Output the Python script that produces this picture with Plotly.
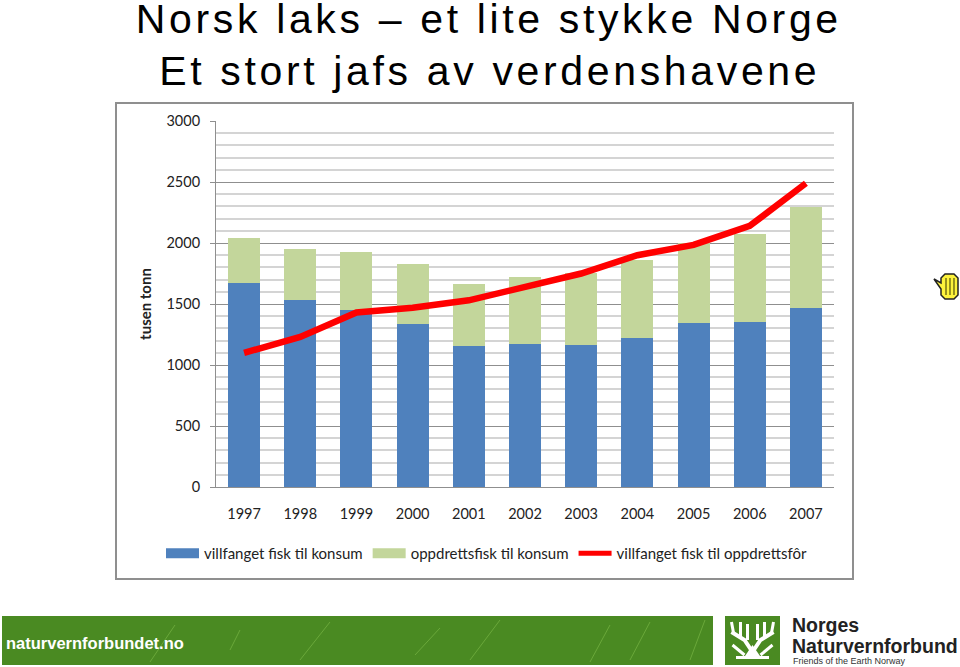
import plotly.graph_objects as go

years = ["1997","1998","1999","2000","2001","2002","2003","2004","2005","2006","2007"]
wild_food = [1672,1535,1450,1340,1155,1175,1160,1225,1345,1355,1470]
farmed_food = [368,415,475,490,510,550,595,635,655,715,825]
wild_feed = [1100,1230,1430,1470,1530,1640,1750,1900,1985,2140,2490]
title_lines = ["Norsk laks – et lite stykke Norge", "Et stort jafs av verdenshavene"]
names = ["villfanget fisk til konsum", "oppdrettsfisk til konsum", "villfanget fisk til oppdrettsfôr"]

L, T, PW, PH = 216, 121, 618, 366
def px(x): return (x - L) / PW
def py(y): return (T + PH - y) / PH

fig = go.Figure()
fig.add_bar(x=years, y=wild_food, name=names[0], marker_color="#4f81bd", marker_line_width=0, showlegend=False)
fig.add_bar(x=years, y=farmed_food, name=names[1], marker_color="#c3d69b", marker_line_width=0, showlegend=False)
fig.add_scatter(x=years, y=wild_feed, name=names[2], mode="lines", showlegend=False,
                line=dict(color="#ff0000", width=6.5, shape="linear"))
for n, c, w in zip(names, ["#4f81bd", "#c3d69b", "#ff0000"], [10, 10, 5]):
    fig.add_scatter(x=[None], y=[None], name=n, mode="lines", line=dict(color=c, width=w))

def rect(x0, y0, x1, y1, fill, line=None, lw=0, layer="below"):
    return dict(type="rect", xref="paper", yref="paper", x0=px(x0), x1=px(x1), y0=py(y0), y1=py(y1),
                fillcolor=fill, line=dict(color=line or fill, width=lw), layer=layer)

def path(points, fill="white", line="white", lw=0, close=True):
    d = "M " + " L ".join(f"{px(a):.5f},{py(b):.5f}" for a, b in points) + (" Z" if close else "")
    return dict(type="path", xref="paper", yref="paper", path=d, fillcolor=fill if close else "rgba(0,0,0,0)",
                line=dict(color=line, width=lw), layer="above")

shapes = [
    rect(116, 103, 853, 579, "white", "#8f8f8f", 2),
    rect(2, 616, 713, 665, "#4a8a22"),
    rect(725, 616, 780, 665, "#4a8a22"),
]
for a, b, c, d in [(150,662,175,625),(230,650,240,630),(300,660,330,622),(415,655,440,628),
                   (470,660,500,620),(590,662,610,625),(630,660,650,622),(690,660,705,620)]:
    shapes.append(path([(a,b),(c,d)], line="#6aa83a", lw=1, close=False))
cx = 752.5
for s in (-1, 1):
    shapes.append(path([(cx, 652),(cx+s*8, 640),(cx+s*21, 632)], line="white", lw=4, close=False))
    shapes.append(path([(cx+s*12, 637),(cx+s*12, 622)], line="white", lw=3, close=False))
    shapes.append(path([(cx+s*19, 633),(cx+s*21, 622)], line="white", lw=3, close=False))
    shapes.append(path([(cx+s*5, 640),(cx+s*5, 624)], line="white", lw=3, close=False))
    shapes.append(path([(cx+s*8, 655),(cx+s*20, 645)], line="white", lw=3, close=False))
shapes.append(path([(745,656),(752.5,645),(760,656)]))
shapes.append(rect(736, 656, 769, 659, "white", layer="above"))
shapes.append(path([(945,274),(954,274),(958,278),(958,295),(954,299),(945,299),(941,295),(941,289),
                    (934,279),(941,283),(941,278)], fill="#fdf33c", line="#222222", lw=1.5))
for xx in (946, 950, 954):
    shapes.append(path([(xx,278),(xx,295)], line="#333300", lw=1, close=False))

def note(x, y, text, size, color="black", family="Liberation Sans", anchor="left"):
    return dict(xref="paper", yref="paper", x=px(x), y=py(y), text=text, showarrow=False, xanchor=anchor,
                yanchor="middle", font=dict(size=size, color=color, family=family))

annotations = [
    note(489, 19, title_lines[0], 41, anchor="center"),
    note(490, 71, title_lines[1], 41, anchor="center"),
    note(4, 643, "<b>naturvernforbundet.no</b>", 16.5, "white"),
    note(790, 625, "<b>Norges</b>", 19.5, "#222222"),
    note(790, 646, "<b>Naturvernforbund</b>", 19.5, "#222222"),
    note(791, 661, "Friends of the Earth Norway", 9, "#333333"),
]

fig.update_layout(
    width=960, height=667, barmode="stack", bargap=0.43,
    margin=dict(l=L, r=960-L-PW, t=T, b=667-T-PH, pad=0),
    paper_bgcolor="white", plot_bgcolor="white",
    font=dict(family="Lato", size=15, color="#222222"),
    shapes=shapes, annotations=annotations,
    legend=dict(orientation="h", x=px(161), y=py(537), xanchor="left", yanchor="top",
                font=dict(size=15, family="Lato"), itemwidth=33, bgcolor="rgba(0,0,0,0)",
                traceorder="normal"),
    xaxis=dict(type="category", showgrid=False, showline=True, linecolor="#8f8f8f", linewidth=1,
               ticks="", ticklabelstandoff=14, tickfont=dict(size=14.5, family="Lato")),
    yaxis=dict(range=[0, 3000], dtick=500, showline=True, linecolor="#8f8f8f", linewidth=1,
               ticks="outside", ticklen=5, tickcolor="#8f8f8f", ticklabelstandoff=7,
               tickfont=dict(size=14.5, family="Lato"),
               gridcolor="#8f8f8f", gridwidth=1, zeroline=False,
               minor=dict(dtick=100, showgrid=True, gridcolor="#d4d4d4", gridwidth=1.5, ticks=""),
               title=dict(text="<b>tusen tonn</b>", standoff=11, font=dict(size=15, family="Lato"))),
)
post = """
document.body.style.margin = '0';
document.querySelectorAll('.annotation-text').forEach(function (t) {
  if (t.textContent.length > 25 && t.style.fontSize.indexOf('41') === 0) t.style.letterSpacing = '3.65px';
});
"""
fig.write_html("out.html", post_script=post, config=dict(displayModeBar=False))
